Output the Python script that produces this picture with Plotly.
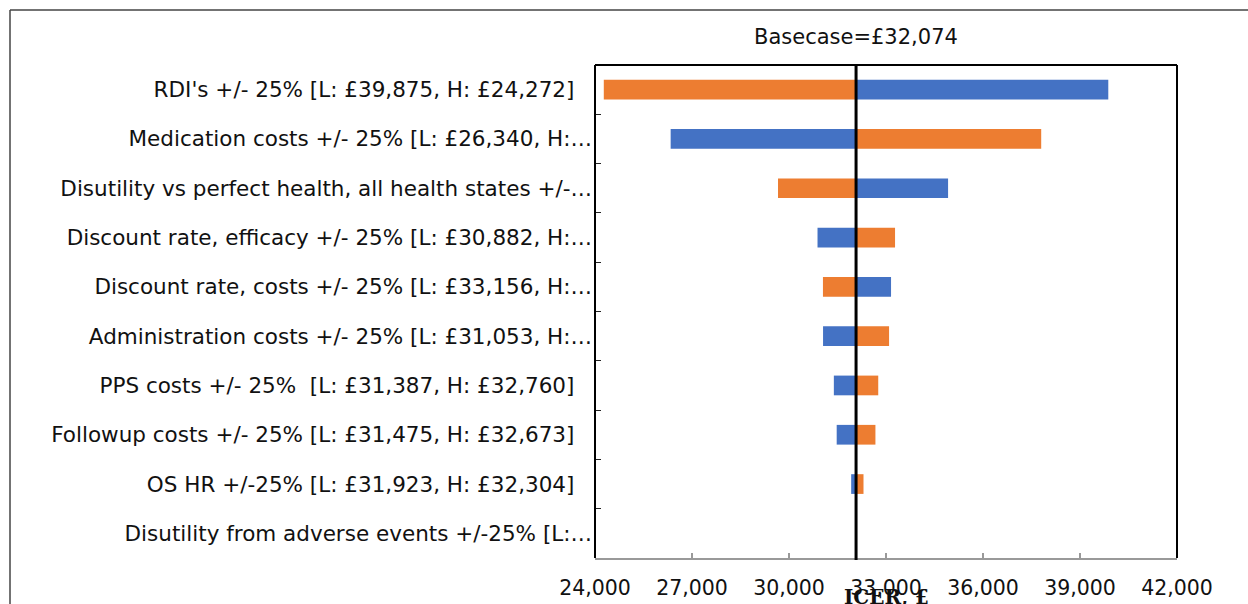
import plotly.graph_objects as go

# Tornado diagram: one-way sensitivity analysis of the ICER
BASECASE = 32074

# Labels that fit in full are padded so they sit slightly away from the axis,
# while shortened ones run up to it.
PAD = "\u2002\u00a0"

parameters = [
    "RDI's +/- 25% [L: £39,875, H: £24,272]" + PAD,
    "Medication costs +/- 25% [L: £26,340, H:…",
    "Disutility vs perfect health, all health states +/-…",
    "Discount rate, efficacy +/- 25% [L: £30,882, H:…",
    "Discount rate, costs +/- 25% [L: £33,156, H:…",
    "Administration costs +/- 25% [L: £31,053, H:…",
    "PPS costs +/- 25%  [L: £31,387, H: £32,760]" + PAD,
    "Followup costs +/- 25% [L: £31,475, H: £32,673]" + PAD,
    "OS HR +/-25% [L: £31,923, H: £32,304]" + PAD,
    "Disutility from adverse events +/-25% [L:…",
]

# ICER at the low (L) and high (H) parameter values
icer_low = [39875, 26340, 34920, 30882, 33156, 31053, 31387, 31475, 31923, 32074]
icer_high = [24272, 37800, 29660, 33280, 31050, 33095, 32760, 32673, 32304, 32074]

x_ticks = [24000, 27000, 30000, 33000, 36000, 39000, 42000]

BLUE = "#4472C4"
ORANGE = "#ED7D31"
FONT = "DejaVu Sans"
TEXT = "#111111"

fig = go.Figure()
fig.add_trace(go.Bar(
    y=parameters,
    x=[v - BASECASE for v in icer_low],
    base=BASECASE,
    orientation="h",
    marker=dict(color=BLUE, line=dict(width=0)),
    width=0.4,
    name="Low",
    showlegend=False,
))
fig.add_trace(go.Bar(
    y=parameters,
    x=[v - BASECASE for v in icer_high],
    base=BASECASE,
    orientation="h",
    marker=dict(color=ORANGE, line=dict(width=0)),
    width=0.4,
    name="High",
    showlegend=False,
))

W, H = 1248, 604
ML, MR, MT, MB = 595, 71, 65, 46
pw, ph = W - ML - MR, H - MT - MB


def px_x(p):
    return (p - ML) / pw


def px_y(p):
    return (H - MB - p) / ph


fig.update_layout(
    width=W,
    height=H,
    margin=dict(l=ML, r=MR, t=MT, b=MB, pad=0, autoexpand=False),
    barmode="overlay",
    plot_bgcolor="white",
    paper_bgcolor="white",
    font=dict(family=FONT, size=21, color=TEXT),
    xaxis=dict(
        range=[x_ticks[0], x_ticks[-1]],
        tickvals=x_ticks,
        tickformat=",d",
        ticks="inside",
        ticklen=5,
        tickcolor="#999999",
        tickwidth=2,
        showgrid=False,
        zeroline=False,
        showline=True,
        linecolor="#999999",
        linewidth=2,
        automargin=False,
        ticklabelstandoff=10,
        tickfont=dict(family=FONT, size=20.5, color=TEXT),
    ),
    yaxis=dict(
        type="category",
        categoryorder="array",
        categoryarray=parameters,
        autorange="reversed",
        ticks="inside",
        tickson="boundaries",
        ticklen=6,
        tickcolor="#222222",
        tickwidth=1,
        showgrid=False,
        showline=False,
        automargin=False,
        ticklabelstandoff=2,
        tickfont=dict(family=FONT, size=21.5, color=TEXT),
    ),
    shapes=[
        # plot frame (top, left, right)
        dict(type="line", xref="paper", yref="paper", x0=0, x1=1, y0=1, y1=1,
             line=dict(color="black", width=2)),
        dict(type="line", xref="paper", yref="paper", x0=0, x1=0, y0=0, y1=1,
             line=dict(color="black", width=2)),
        dict(type="line", xref="paper", yref="paper", x0=1, x1=1, y0=0, y1=1,
             line=dict(color="black", width=2)),
        # basecase reference line
        dict(type="line", xref="x", yref="paper", x0=BASECASE, x1=BASECASE,
             y0=px_y(560), y1=1, line=dict(color="black", width=3)),
        # outer chart border
        dict(type="line", xref="paper", yref="paper", x0=px_x(10), x1=px_x(1250),
             y0=px_y(10), y1=px_y(10), line=dict(color="#444444", width=1.5)),
        dict(type="line", xref="paper", yref="paper", x0=px_x(10), x1=px_x(10),
             y0=px_y(10), y1=px_y(610), line=dict(color="#444444", width=1.5)),
    ],
    annotations=[
        dict(text=f"Basecase=£{BASECASE:,}", x=BASECASE, xref="x", y=px_y(37),
             yref="paper", showarrow=False, xanchor="center", yanchor="middle",
             font=dict(family=FONT, size=21, color=TEXT)),
        dict(text="<b>ICER, £</b>", x=px_x(886), xref="paper", y=px_y(597),
             yref="paper", showarrow=False, xanchor="center", yanchor="middle",
             font=dict(family="DejaVu Serif", size=20, color=TEXT)),
    ],
)

fig.write_html("out.html")
